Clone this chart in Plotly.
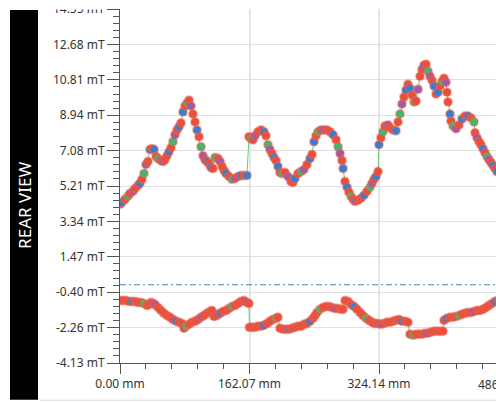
import numpy as np
import plotly.graph_objects as go

# ---------------- data ----------------
upper_mm = [0.0, 2.5, 6.3, 10.0, 12.5, 16.3, 18.8, 22.5, 25.0, 27.5, 30.0, 32.5, 35.0, 37.5, 40.0, 42.6,
            45.1, 47.6, 51.3, 53.8, 56.3, 58.8, 61.3, 63.8, 66.3, 68.8, 71.3, 73.8, 76.3, 78.8, 81.3, 83.9,
            86.4, 88.9, 91.4, 93.9, 96.4, 98.9, 101.4, 103.9, 106.4, 108.9, 111.4, 113.9, 116.4, 118.9, 122.7,
            125.2, 127.7, 130.2, 132.7, 136.4, 140.2, 143.9, 147.7, 151.4, 155.2, 158.9, 161.4, 163.9, 166.5,
            169.0, 172.7, 176.5, 180.2, 182.7, 185.2, 187.7, 190.2, 192.7, 195.2, 197.7, 200.2, 202.7, 206.5,
            210.3, 214.0, 216.5, 219.0, 222.8, 226.5, 230.3, 234.0, 237.8, 240.3, 242.8, 245.3, 247.8, 251.6,
            255.3, 259.1, 262.8, 266.6, 270.4, 272.9, 275.4, 277.9, 279.2, 281.6, 284.2, 286.6, 289.1, 291.6,
            294.1, 297.9, 301.6, 305.4, 309.1, 312.9, 315.4, 317.9, 320.4, 322.9, 324.1, 326.6, 329.1, 331.6,
            335.4, 337.9, 341.7, 345.4, 347.9, 350.4, 352.9, 355.4, 357.9, 360.4, 362.9, 365.5, 368.0, 370.5,
            373.0, 375.5, 378.0, 380.5, 383.0, 385.5, 388.0, 390.5, 393.0, 395.5, 398.0, 400.5, 403.0, 405.5,
            408.0, 409.2, 410.5, 413.0, 414.2, 416.8, 420.5, 424.3, 428.0, 431.8, 435.5, 439.3, 443.0, 444.3,
            446.8, 449.3, 451.8, 454.3, 456.8, 459.3, 461.8, 464.3, 466.8, 469.3, 471.8]
upper_mT = [4.25, 4.35, 4.51, 4.67, 4.82, 4.93, 5.08, 5.24, 5.35, 5.56, 5.87, 6.34, 6.50, 7.13, 7.18, 7.13,
            6.76, 6.66, 6.55, 6.50, 6.60, 6.81, 7.02, 7.23, 7.55, 7.91, 8.17, 8.33, 8.54, 9.12, 9.43, 9.59,
            9.74, 9.43, 9.01, 8.59, 8.17, 7.81, 7.28, 6.81, 6.60, 6.50, 6.39, 6.18, 6.13, 6.71, 6.66,
            6.50, 6.24, 6.03, 5.87, 5.71, 5.56, 5.61, 5.71, 5.77, 5.77, 5.77, 7.81, 7.70, 7.65,
            7.86, 8.07, 8.17, 8.07, 7.86, 7.39, 7.13, 6.92, 6.71, 6.55, 6.24, 5.92, 5.87, 5.92,
            5.71, 5.45, 5.40, 5.61, 5.87, 5.97, 6.08, 6.34, 6.66, 6.87, 7.55, 7.86, 8.07, 8.17,
            8.17, 8.17, 8.07, 7.91, 7.65, 7.28, 6.92, 6.55, 6.13, 5.45, 5.14, 4.88, 4.67, 4.51,
            4.40, 4.46, 4.56, 4.72, 4.93, 5.14, 5.35, 5.56, 5.71, 5.97, 7.39, 7.76, 8.07, 8.38,
            8.43, 8.28, 8.17, 8.12, 8.59, 9.01, 9.53, 9.90, 10.27, 10.58, 10.37, 10.01, 9.64, 9.69,
            10.32, 11.00, 11.37, 11.58, 11.63, 11.26, 11.00, 10.79, 10.48, 10.06, 10.16, 10.48, 10.74, 10.90,
            10.69, 10.16, 9.64, 9.01, 8.64, 8.38, 8.23, 8.43, 8.75, 8.90, 8.90, 8.80, 8.59, 8.02,
            7.76, 7.55, 7.39, 7.18, 6.97, 6.76, 6.60, 6.45, 6.29, 6.13, 5.97]

lower_mm = [0.0, 3.8, 7.5, 11.3, 15.0, 18.8, 22.5, 26.3, 30.0, 33.8, 36.3, 38.8, 41.3, 43.8, 47.6, 51.3,
            55.1, 58.8, 62.6, 66.3, 70.1, 73.8, 77.6, 80.1, 82.6, 86.4, 90.1, 93.9, 97.6, 101.4, 105.1,
            108.9, 112.6, 115.1, 117.7, 121.4, 125.2, 128.9, 132.7, 136.4, 140.2, 143.9, 147.7, 151.4, 155.2,
            158.9, 161.4, 162.0, 165.2, 169.0, 172.7, 176.5, 180.2, 184.0, 187.7, 191.5, 195.2, 197.7, 200.2,
            204.0, 207.7, 211.5, 215.3, 219.0, 222.8, 226.5, 230.3, 234.0, 237.8, 241.6, 244.1, 246.6, 250.3,
            254.1, 257.8, 261.6, 265.3, 269.1, 272.8, 276.6, 279.1, 281.6, 285.4, 289.1, 292.9, 296.6, 300.4,
            304.1, 307.9, 311.6, 315.4, 319.1, 322.9, 326.6, 330.4, 334.1, 337.9, 341.7, 345.4, 349.2, 352.9,
            356.7, 360.4, 362.9, 366.7, 370.4, 374.2, 377.9, 381.7, 385.5, 389.2, 393.0, 396.7, 400.5, 404.2,
            405.5, 409.2, 413.0, 416.8, 420.5, 424.3, 428.0, 431.8, 435.5, 439.3, 443.0, 446.8, 450.5, 454.3,
            458.0, 461.8, 465.5, 469.3, 473.1]
lower_mT = [-0.83, -0.83, -0.83, -0.88, -0.88, -0.88, -0.94, -0.94, -0.99, -1.09, -1.04, -0.94, -0.99, -1.04,
            -1.20, -1.36, -1.51, -1.62, -1.72, -1.83, -1.93, -1.98, -2.04, -2.30, -2.19, -2.09, -1.98, -1.93,
            -1.83, -1.72, -1.62, -1.51, -1.41, -1.36, -1.67, -1.62, -1.51, -1.41, -1.36, -1.25, -1.15, -1.09,
            -0.99, -0.88, -0.83, -0.94, -0.99, -2.25, -2.25, -2.25, -2.19, -2.19, -2.14, -2.04, -1.93, -1.83,
            -1.77, -1.72, -2.30, -2.35, -2.35, -2.35, -2.30, -2.25, -2.19, -2.19, -2.09, -2.04, -1.93, -1.77,
            -1.62, -1.46, -1.30, -1.20, -1.15, -1.15, -1.20, -1.25, -1.25, -1.30, -1.30, -0.83, -0.88, -1.04,
            -1.15, -1.30, -1.46, -1.62, -1.77, -1.88, -1.98, -2.04, -2.04, -2.09, -2.04, -1.98, -1.98, -1.93,
            -1.88, -1.83, -1.93, -1.93, -1.98, -2.61, -2.66, -2.61, -2.61, -2.61, -2.56, -2.56, -2.50, -2.45,
            -2.45, -2.45, -2.45, -1.88, -1.77, -1.72, -1.72, -1.67, -1.62, -1.56, -1.51, -1.46, -1.46, -1.41,
            -1.36, -1.36, -1.30, -1.20, -1.09, -0.99, -0.88, -0.83]

x_tick_vals = [0.0, 162.07, 324.14, 486.21]
x_tick_text = ["0.00 mm", "162.07 mm", "324.14 mm", "486.21 mm"]
y_tick_vals = [-4.13, -2.2625, -0.395, 1.4725, 3.34, 5.2075, 7.075, 8.9425, 10.81, 12.6775, 14.545]
y_tick_text = ["-4.13 mT", "-2.26 mT", "-0.40 mT", "1.47 mT", "3.34 mT", "5.21 mT", "7.08 mT",
               "8.94 mT", "10.81 mT", "12.68 mT", "14.55 mT"]
side_label = "REAR VIEW"
reference_level = 0.0

# ---------------- style ----------------
W, H = 496, 402
ML, MT, MB = 120, 7, 39
PW, PH = W - ML, H - MT - MB
mm_per_px = x_tick_vals[1] / 129.5
x_max = PW * mm_per_px
y_min, y_max = y_tick_vals[0], y_tick_vals[-1] + 0.004

palette = {"r": "#e8503a", "b": "#2f80d8", "p": "#9c5caa", "g": "#3dba6e"}
upper_pattern = "rbrgrprrbrgprb"
lower_pattern = "rrrrbrrrgrrrrprr"
upper_colors = [palette[upper_pattern[i % len(upper_pattern)]] for i in range(len(upper_mm))]
lower_colors = [palette[lower_pattern[i % len(lower_pattern)]] for i in range(len(lower_mm))]

def px_x(px):
    return (px - ML) / PW

def px_y(py):
    return (H - MB - py) / PH

fig = go.Figure()
for xs, ys, cols in [(upper_mm, upper_mT, upper_colors), (lower_mm, lower_mT, lower_colors)]:
    fig.add_trace(go.Scatter(
        x=xs, y=ys, mode="lines+markers",
        line=dict(color="rgba(80,200,115,0.9)", width=1),
        marker=dict(size=8, color=cols, line=dict(color="rgba(235,95,80,0.45)", width=2)),
        showlegend=False, hoverinfo="skip"))

tickfont = dict(family="Noto Sans", size=12, color="#333333")
y_minor = np.linspace(y_tick_vals[0], y_tick_vals[-1], (len(y_tick_vals) - 1) * 5 + 1)
x_minor = np.arange(0, x_max, x_tick_vals[1] / 5)

fig.update_xaxes(range=[0, x_max], tickmode="array", tickvals=x_tick_vals, ticktext=x_tick_text,
                 showgrid=True, gridcolor="#e6e6e6", gridwidth=2, zeroline=False,
                 showline=True, linecolor="#555555", linewidth=1,
                 ticks="outside", ticklen=10, tickcolor="#555555", tickfont=tickfont,
                 minor=dict(tickmode="array", tickvals=list(x_minor), ticks="outside", ticklen=5,
                            tickcolor="#555555", showgrid=False))
fig.update_yaxes(range=[y_min, y_max], tickmode="array", tickvals=y_tick_vals,
                 ticktext=y_tick_text, showgrid=True, gridcolor="#e0e0e0", gridwidth=1, zeroline=False,
                 showline=True, linecolor="#555555", linewidth=1, ticklabeloverflow="allow",
                 ticks="outside", ticklen=12, tickcolor="#555555", tickfont=tickfont,
                 minor=dict(tickmode="array", tickvals=list(y_minor), ticks="outside", ticklen=6,
                            tickcolor="#555555", showgrid=False))

shapes = [
    dict(type="line", xref="paper", yref="y", x0=0, x1=1, y0=reference_level, y1=reference_level,
         line=dict(color="#3d87c9", width=1, dash="6px,3px,2px,3px"), layer="above"),
    dict(type="rect", xref="paper", yref="paper", x0=px_x(10), x1=px_x(38), y0=px_y(400), y1=px_y(8),
         fillcolor="#000000", line=dict(width=0), layer="above"),
    dict(type="rect", xref="paper", yref="paper", x0=px_x(40), x1=px_x(105), y0=px_y(7.5), y1=px_y(-2),
         fillcolor="#ffffff", line=dict(width=0), layer="above"),
    dict(type="line", xref="paper", yref="paper", x0=px_x(40), x1=1, y0=px_y(400.5), y1=px_y(400.5),
         line=dict(color="#dddddd", width=1)),
]
annotations = [
    dict(text=side_label, xref="paper", yref="paper", x=px_x(25), y=px_y(205), showarrow=False,
         textangle=-90, font=dict(family="Noto Sans", size=17, color="#ffffff"),
         xanchor="center", yanchor="middle"),
    dict(text=x_tick_text[-1], xref="paper", yref="paper", x=px_x(509), y=px_y(385), showarrow=False,
         font=tickfont, xanchor="center", yanchor="middle"),
]

fig.update_layout(width=W, height=H, margin=dict(l=ML, r=0, t=MT, b=MB, pad=0),
                  paper_bgcolor="white", plot_bgcolor="white",
                  shapes=shapes, annotations=annotations)

fig.write_html("out.html", config={"displayModeBar": False},
               post_script="document.body.style.margin='0px';")
